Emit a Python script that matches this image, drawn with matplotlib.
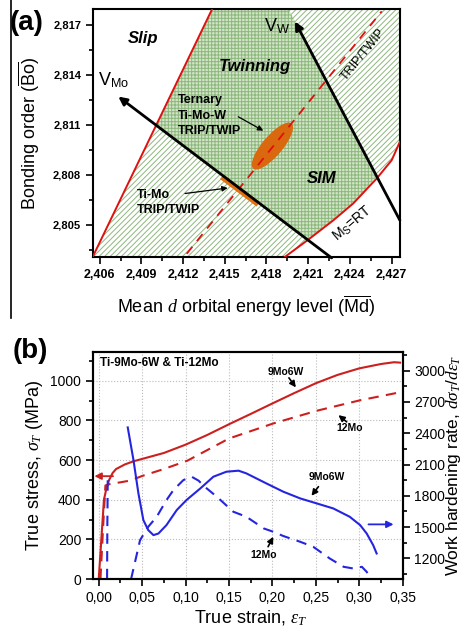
import numpy as np
import matplotlib
matplotlib.use("Agg")
from matplotlib import pyplot as plt
from matplotlib.ticker import MultipleLocator, FuncFormatter

plt.rcParams['font.family'] = ['Liberation Sans', 'DejaVu Sans']
plt.rcParams['mathtext.fontset'] = 'custom'
plt.rcParams['mathtext.rm'] = 'Liberation Sans'
plt.rcParams['mathtext.sf'] = 'Liberation Sans'
plt.rcParams['mathtext.it'] = 'Liberation Serif:italic'
plt.rcParams['hatch.linewidth'] = 0.7

# ---------------- data: panel (a) ----------------
slip_x = [2.40548, 2.41410]          # red boundary slip/twinning
slip_y = [2.80303, 2.81796]
trip_x = [2.41226, 2.42629]          # dashed TRIP/TWIP line
trip_y = [2.80325, 2.81781]
ms_x = [2.41921, 2.42101, 2.42281, 2.42424, 2.42593, 2.42701, 2.42760]   # Ms = RT
ms_y = [2.80299, 2.80410, 2.80526, 2.80627, 2.80777, 2.80887, 2.80998]
vmo_tail = (2.42269, 2.80300)
vmo_head = (2.40734, 2.81269)
vw_tail = (2.42760, 2.80526)
vw_head = (2.42005, 2.81720)
timo_seg_x = [2.41478, 2.41741]
timo_seg_y = [2.80787, 2.80622]
ell_c = (2.41843, 2.80972)
ell_u = (0.00138, 0.001355)
ell_v = (0.000548, -0.00039)
xa_ticks = [2.406, 2.409, 2.412, 2.415, 2.418, 2.421, 2.424, 2.427]
ya_ticks = [2.805, 2.808, 2.811, 2.814, 2.817]

# ---------------- data: panel (b) ----------------
s9_x = [0, 0.003, 0.006, 0.009, 0.012, 0.016, 0.02, 0.03, 0.04, 0.05, 0.075, 0.1, 0.125,
        0.15, 0.175, 0.2, 0.225, 0.25, 0.275, 0.3, 0.325, 0.34, 0.347]
s9_y = [0, 200, 400, 460, 500, 535, 555, 578, 594, 606, 636, 678, 727,
        781, 833, 886, 938, 988, 1030, 1063, 1085, 1094, 1092]
s12_x = [0.002, 0.005, 0.0077, 0.0135, 0.025, 0.0365, 0.05, 0.075, 0.102, 0.15, 0.201, 0.251, 0.301, 0.35]
s12_y = [0, 260, 472, 480, 488, 497, 520, 555, 597, 709, 785, 849, 902, 945]
h9_x = [0.0334, 0.04, 0.0457, 0.0514, 0.057, 0.063, 0.0687, 0.078, 0.0898, 0.101, 0.117, 0.132,
        0.147, 0.161, 0.170, 0.193, 0.2126, 0.232, 0.251, 0.27, 0.289, 0.301, 0.3085, 0.316, 0.32]
h9_y = [2456, 2143, 1823, 1567, 1471, 1423, 1438, 1519, 1663, 1759, 1871, 1983,
        2031, 2041, 2015, 1919, 1839, 1775, 1727, 1679, 1599, 1519, 1439, 1327, 1247]
h12a_x = [0.0096, 0.0099, 0.0104]
h12a_y = [1000, 1500, 1980]
h12_x = [0.0372, 0.0476, 0.057, 0.0668, 0.078, 0.086, 0.0975, 0.107, 0.115, 0.122, 0.136, 0.155,
         0.170, 0.19, 0.201, 0.2126, 0.232, 0.247, 0.266, 0.282, 0.293, 0.303, 0.3085, 0.314, 0.326]
h12_y = [1000, 1375, 1503, 1599, 1759, 1855, 1951, 1983, 1945, 1887, 1791, 1647,
         1599, 1487, 1455, 1414, 1359, 1311, 1199, 1119, 1103, 1119, 1071, 1000, 960]

fig = plt.figure(figsize=(4.65, 6.31), dpi=100)

# =================== (a) ===================
ax = fig.add_axes([0.2, 0.592, 0.66, 0.394])
ax.set_xlim(2.40552, 2.4276)
ax.set_ylim(2.80303, 2.81796)
x0, x1 = ax.get_xlim()
y0, y1 = ax.get_ylim()

# hatched region: right of slip line, above Ms curve
hx = [slip_x[0], slip_x[1], x1, x1] + ms_x[::-1] + [slip_x[0]]
hy = [slip_y[0], slip_y[1], y1, ms_y[-1]] + ms_y[::-1] + [y0]
ax.fill(hx, hy, facecolor='white', edgecolor='#8cb87c', hatch='//////', lw=0, zorder=1)

# checkered region (twinning / SIM)
def on_line(p, q, x):
    return p[1] + (q[1] - p[1]) / (q[0] - p[0]) * (x - p[0])

vw_top_x = vw_tail[0] + (y1 - vw_tail[1]) * (vw_head[0] - vw_tail[0]) / (vw_head[1] - vw_tail[1])
cx = [2.41006, slip_x[1], vw_top_x, 2.42593, 2.42450, 2.42281, 2.42101, 2.41006]
cy = [on_line((slip_x[0], slip_y[0]), (slip_x[1], slip_y[1]), 2.41006), y1, y1,
      on_line(vw_tail, vw_head, 2.42593), 2.8065, 2.80526, on_line(vmo_tail, vmo_head, 2.42101),
      on_line((slip_x[0], slip_y[0]), (slip_x[1], slip_y[1]), 2.41006)]
ax.fill(cx, cy, facecolor='#d3e4c8', edgecolor='#8cb87c', hatch='+++++', lw=0, zorder=2)

ax.plot(slip_x, slip_y, color='#e01010', lw=1.4, zorder=4)
ax.plot(ms_x, ms_y, color='#e01010', lw=1.4, zorder=4)
ax.plot(trip_x, trip_y, color='#e01010', lw=1.3, ls=(0, (5, 4)), zorder=5)

t = np.linspace(0, 2 * np.pi, 100)
ex = ell_c[0] + ell_u[0] * np.cos(t) + ell_v[0] * np.sin(t)
ey = ell_c[1] + ell_u[1] * np.cos(t) + ell_v[1] * np.sin(t)
ax.fill(ex, ey, color='#d9680f', lw=0, zorder=4)
ax.plot(timo_seg_x, timo_seg_y, color='#e07010', lw=4, solid_capstyle='butt', zorder=6)

ax.annotate('', xy=vmo_head, xytext=vmo_tail, zorder=6, annotation_clip=False,
            arrowprops=dict(arrowstyle='-|>', color='black', lw=2, mutation_scale=12, shrinkA=0, shrinkB=0))
ax.annotate('', xy=vw_head, xytext=vw_tail, zorder=6,
            arrowprops=dict(arrowstyle='-|>', color='black', lw=2, mutation_scale=12, shrinkA=0, shrinkB=0))

ax.text(2.40912, 2.81616, 'Slip', fontsize=12, fontweight='bold', style='italic', ha='center', va='center', zorder=7)
ax.text(2.41718, 2.81449, 'Twinning', fontsize=12, fontweight='bold', style='italic', ha='center', va='center', zorder=7)
ax.text(2.42197, 2.80777, 'SIM', fontsize=12, fontweight='bold', style='italic', ha='center', va='center', zorder=7)
ax.text(2.42494, 2.81519, 'TRIP/TWIP', fontsize=9, rotation=51, ha='center', va='center', zorder=7)
ax.text(2.42422, 2.80508, r'M$_{\rm S}$=RT', fontsize=10, rotation=40, ha='center', va='center', zorder=7)
ax.text(2.40698, 2.81369, r'V$_{\rm Mo}$', fontsize=13, ha='center', va='center', zorder=7)
ax.text(2.41873, 2.81695, r'V$_{\rm W}$', fontsize=13, ha='center', va='center', zorder=7)
ax.text(2.41163, 2.81155, 'Ternary\nTi-Mo-W\nTRIP/TWIP', fontsize=9, fontweight='bold', ha='left', va='center',
        linespacing=1.35, zorder=7)
ax.annotate('', xy=(2.41777, 2.81064), xytext=(2.41597, 2.81148), zorder=7,
            arrowprops=dict(arrowstyle='-|>', color='black', lw=0.9, mutation_scale=8, shrinkA=0, shrinkB=0))
ax.text(2.40868, 2.80634, 'Ti-Mo\nTRIP/TWIP', fontsize=9, fontweight='bold', ha='left', va='center',
        linespacing=1.35, zorder=7)
ax.annotate('', xy=(2.41521, 2.80720), xytext=(2.41214, 2.80687), zorder=7,
            arrowprops=dict(arrowstyle='-|>', color='black', lw=0.9, mutation_scale=8, shrinkA=0, shrinkB=0))

ax.set_xticks(xa_ticks)
ax.set_yticks(ya_ticks)
ax.xaxis.set_minor_locator(MultipleLocator(0.0015))
ax.yaxis.set_minor_locator(MultipleLocator(0.0015))
ax.xaxis.set_major_formatter(FuncFormatter(lambda v, p: f"{v:.3f}".replace('.', ',')))
ax.yaxis.set_major_formatter(FuncFormatter(lambda v, p: f"{v:.3f}".replace('.', ',')))
ax.tick_params(which='both', direction='out', top=False, right=False, width=1.2)
ax.tick_params(which='major', length=5)
ax.tick_params(which='minor', length=3)
for lab in ax.get_xticklabels():
    lab.set_fontsize(9)
    lab.set_fontweight('bold')
for lab in ax.get_yticklabels():
    lab.set_fontsize(8)
    lab.set_fontweight('bold')
for sp in ax.spines.values():
    sp.set_linewidth(1.5)
ax.set_xlabel(r'Mean $\mathit{d}$ orbital energy level ($\overline{\mathsf{Md}}$)', fontsize=13)
ax.set_ylabel(r'Bonding order ($\overline{\mathsf{Bo}}$)', fontsize=13)
ax.xaxis.set_label_coords(0.5, -0.145)
ax.yaxis.set_label_coords(-0.165, 0.5)

# =================== (b) ===================
bx = fig.add_axes([0.2, 0.0824, 0.666, 0.3602])
bx.set_xlim(-0.0066, 0.35)
bx.set_ylim(0, 1147)
bx.grid(True, which='major', ls=':', color='#bbbbbb', lw=0.8)
bx.set_axisbelow(True)
bx.plot(s9_x, s9_y, color='#cc1f1f', lw=1.5)
bx.plot(s12_x, s12_y, color='#cc1f1f', lw=1.5, ls=(0, (5, 3.5)))

rx = bx.twinx()
rx.set_ylim(1002, 3182)
rx.plot(h9_x, h9_y, color='#2525e0', lw=1.5)
rx.plot(h12a_x, h12a_y, color='#2525e0', lw=1.5, ls=(0, (5, 3.5)))
rx.plot(h12_x, h12_y, color='#2525e0', lw=1.5, ls=(0, (5, 3.5)))
rx.annotate('', xy=(0.3395, 1526), xytext=(0.3106, 1526),
            arrowprops=dict(arrowstyle='-|>', color='#2525e0', lw=1.3, mutation_scale=10, shrinkA=0, shrinkB=0))
bx.annotate('', xy=(-0.005, 519), xytext=(0.0165, 519),
            arrowprops=dict(arrowstyle='-|>', color='#cc1f1f', lw=1.3, mutation_scale=10, shrinkA=0, shrinkB=0))

bx.text(0.023, 0.95, 'Ti-9Mo-6W & Ti-12Mo', transform=bx.transAxes, fontsize=8.5, fontweight='bold',
        ha='left', va='center')
ann = [('9Mo6W', (0.215, 1045), (0.219, 1015), (0.227, 967)),
       ('12Mo', (0.289, 760), (0.2855, 793), (0.276, 827)),
       ('9Mo6W', (0.2625, 516), (0.253, 466), (0.245, 420)),
       ('12Mo', (0.1895, 121), (0.195, 163), (0.201, 213))]
for txt, pos, tail, head in ann:
    bx.text(pos[0], pos[1], txt, fontsize=7.5, fontweight='bold', ha='center', va='center')
    bx.annotate('', xy=head, xytext=tail,
                arrowprops=dict(arrowstyle='-|>', color='black', lw=1.2, mutation_scale=9, shrinkA=0, shrinkB=0))

bx.xaxis.set_major_locator(MultipleLocator(0.05))
bx.xaxis.set_minor_locator(MultipleLocator(0.025))
bx.yaxis.set_major_locator(MultipleLocator(200))
bx.yaxis.set_minor_locator(MultipleLocator(100))
rx.set_yticks([1200, 1500, 1800, 2100, 2400, 2700, 3000])
rx.yaxis.set_minor_locator(MultipleLocator(150))
bx.xaxis.set_major_formatter(FuncFormatter(lambda v, p: f"{v:.2f}".replace('.', ',')))
for a in (bx, rx):
    a.tick_params(which='both', direction='out', width=1.2, labelsize=10)
    a.tick_params(which='major', length=5)
    a.tick_params(which='minor', length=3)
    for sp in a.spines.values():
        sp.set_linewidth(1.5)
bx.set_xlabel(r'True strain, $\varepsilon_T$', fontsize=13)
bx.set_ylabel(r'True stress, $\sigma_T$ (MPa)', fontsize=13)
rx.set_ylabel(r'Work hardening rate, $d\sigma_T/d\varepsilon_T$', fontsize=12.5)
bx.xaxis.set_label_coords(0.51, -0.13)
bx.yaxis.set_label_coords(-0.155, 0.5)
rx.yaxis.set_label_coords(1.135, 0.5)

fig.text(0.058, 0.963, '(a)', fontsize=20, fontweight='bold', ha='center', va='center')
fig.text(0.065, 0.443, '(b)', fontsize=20, fontweight='bold', ha='center', va='center')
fig.add_artist(plt.Line2D([0.0237, 0.0237], [0.496, 1.0], color='black', lw=1.2))

fig.savefig('out.png', dpi=100)
